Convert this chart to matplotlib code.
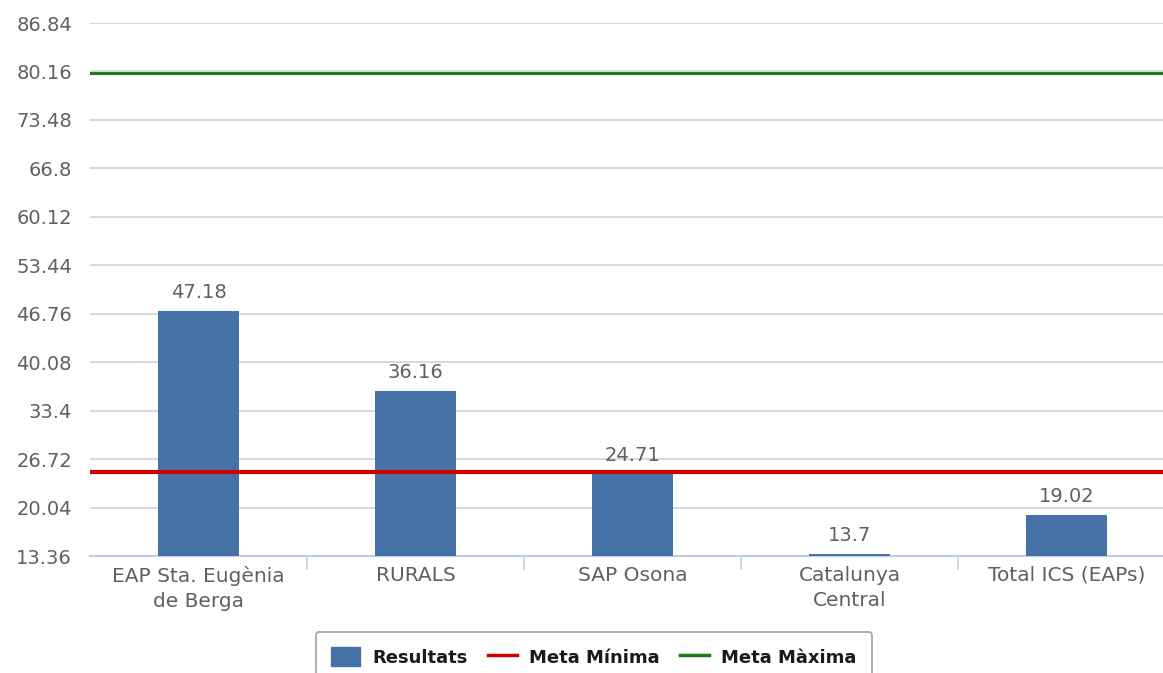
import numpy as np
import matplotlib.pyplot as plt
from matplotlib.patches import Patch
from matplotlib.lines import Line2D

# dades
categories = ['EAP Sta. Eugènia\nde Berga', 'RURALS', 'SAP Osona', 'Catalunya\nCentral', 'Total ICS (EAPs)']
resultats = [47.18, 36.16, 24.71, 13.7, 19.02]
value_labels = ['47.18', '36.16', '24.71', '13.7', '19.02']
meta_minima = 25.0
meta_maxima = 80.0
yticks = [13.36, 20.04, 26.72, 33.4, 40.08, 46.76, 53.44, 60.12, 66.8, 73.48, 80.16, 86.84]
ytick_labels = ['13.36', '20.04', '26.72', '33.4', '40.08', '46.76', '53.44', '60.12', '66.8', '73.48', '80.16', '86.84']

fig = plt.figure(figsize=(11.63, 6.73), dpi=100)
ax = fig.add_axes([90 / 1163, 117 / 673, 1085 / 1163, 533 / 673])

x = np.arange(len(categories))
ax.bar(x, [v - yticks[0] for v in resultats], bottom=yticks[0], width=0.37,
       color='#4572A7', zorder=3)

ax.axhline(meta_minima, color='#CC0000', lw=3, zorder=4)
ax.axhline(meta_maxima, color='#1B7B1B', lw=2.2, zorder=4)

for xi, v, lab in zip(x, resultats, value_labels):
    ax.text(xi, v + 1.2, lab, ha='center', va='bottom', fontsize=14, color='#606060', zorder=5)

ax.set_ylim(yticks[0], yticks[-1])
ax.set_xlim(-0.5, len(categories) - 0.5)
ax.set_yticks(yticks)
ax.set_yticklabels(ytick_labels)
ax.yaxis.grid(True, color='#D8D8D8', lw=1.4, zorder=0)
ax.tick_params(axis='y', length=0, labelsize=14, labelcolor='#606060', pad=13)

ax.set_xticks(x)
ax.set_xticklabels(categories, fontsize=14.5, color='#606060', linespacing=1.45)
ax.tick_params(axis='x', length=0, pad=7)
ax.set_xticks(np.arange(len(categories) - 1) + 0.5, minor=True)
ax.tick_params(axis='x', which='minor', length=10, color='#C0D0E0', width=1.2)

for s in ['top', 'right', 'left']:
    ax.spines[s].set_visible(False)
ax.spines['bottom'].set_color('#C0D0E0')
ax.spines['bottom'].set_linewidth(1.6)

handles = [Patch(facecolor='#4572A7', edgecolor='#4572A7'),
           Line2D([0], [0], color='#CC0000', lw=2.5),
           Line2D([0], [0], color='#1B7B1B', lw=2.5)]
leg = fig.legend(handles, ['Resultats', 'Meta Mínima', 'Meta Màxima'], loc='upper center',
                 bbox_to_anchor=(594 / 1163, 1 - 632 / 673), ncol=3, frameon=True,
                 prop={'weight': 'bold', 'size': 13}, handlelength=1.6, handleheight=1.2,
                 columnspacing=1.1, handletextpad=0.7, borderpad=0.85, borderaxespad=0,
                 fancybox=True)
leg.get_frame().set_edgecolor('#909090')
leg.get_frame().set_linewidth(1.3)
for t in leg.get_texts():
    t.set_color('#1a1a1a')

fig.savefig('out.png', dpi=100)
